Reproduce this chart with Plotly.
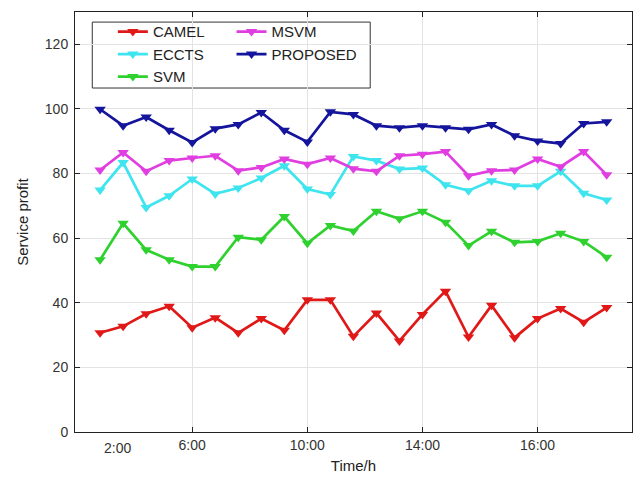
import plotly.graph_objects as go

time_idx = list(range(1, 24))
tick_vals = [5, 10, 15, 20]
tick_text = ["6:00", "10:00", "14:00", "16:00"]
first_label = "2:00"
first_label_pos = 1.74

camel = [30.7, 32.7, 36.6, 38.9, 32.3, 35.4, 30.7, 35.1, 31.5, 40.9, 40.9, 29.6,
         36.8, 28.2, 36.4, 43.6, 29.4, 39.2, 29.2, 35.1, 38.2, 34.0, 38.5]
eccts = [74.9, 83.4, 69.5, 73.1, 78.3, 73.7, 75.5, 78.6, 82.4, 75.2, 73.5, 85.3,
         84.0, 81.4, 81.7, 76.5, 74.7, 77.8, 76.2, 76.2, 80.7, 73.9, 71.8]
svm = [53.3, 64.6, 56.4, 53.3, 51.2, 51.2, 60.3, 59.5, 66.7, 58.4, 63.9, 62.2,
       68.3, 66.0, 68.3, 64.9, 57.7, 62.1, 58.7, 59.0, 61.5, 59.0, 54.1]
msvm = [81.1, 86.5, 80.7, 84.0, 84.8, 85.5, 80.9, 81.9, 84.5, 82.9, 84.8, 81.5,
        80.7, 85.5, 86.0, 86.8, 79.3, 80.9, 81.1, 84.5, 82.1, 86.8, 79.6]
proposed = [99.9, 94.8, 97.5, 93.4, 89.6, 93.9, 95.2, 98.9, 93.4, 89.8, 99.1, 98.3,
            94.8, 94.2, 94.8, 94.2, 93.7, 95.2, 91.7, 90.1, 89.3, 95.5, 96.0]

series = [
    ("CAMEL", camel, "#e01818", "legend"),
    ("ECCTS", eccts, "#3ee4ee", "legend"),
    ("SVM", svm, "#2ed12e", "legend"),
    ("MSVM", msvm, "#e03ee0", "legend2"),
    ("PROPOSED", proposed, "#14149c", "legend2"),
]

fig = go.Figure()
for name, vals, col, lg in series:
    fig.add_trace(go.Scatter(
        x=time_idx, y=vals, name=name, mode="lines+markers",
        line=dict(color=col, width=2.7),
        marker=dict(symbol="triangle-down", size=10, color=col),
        legend=lg,
    ))

font = dict(family="Liberation Sans, Arial, sans-serif", size=14, color="#333333")
legfont = dict(family="Liberation Sans, Arial, sans-serif", size=15, color="#222222")
fig.update_layout(
    width=633, height=473,
    margin=dict(l=67, r=9, t=4, b=49),
    paper_bgcolor="white", plot_bgcolor="white",
    font=font,
    showlegend=True,
    legend=dict(x=0.068, y=0.992, xanchor="left", yanchor="top",
                bgcolor="rgba(0,0,0,0)", borderwidth=0, font=legfont,
                tracegroupgap=0, itemwidth=30),
    legend2=dict(x=0.281, y=0.992, xanchor="left", yanchor="top",
                 bgcolor="rgba(0,0,0,0)", borderwidth=0, font=legfont,
                 tracegroupgap=0, itemwidth=30),
    shapes=[dict(type="rect", xref="paper", yref="paper",
                 x0=0.031, x1=0.53, y0=0.819, y1=0.976,
                 line=dict(color="#333333", width=1), fillcolor="white", layer="below")],
    annotations=[dict(x=first_label_pos, y=0, xref="x", yref="paper",
                      text=first_label, showarrow=False, yanchor="top",
                      yshift=-6, font=font)],
)
fig.update_xaxes(
    range=[-0.09, 24.1], tickvals=tick_vals, ticktext=tick_text,
    showgrid=True, gridcolor="#e3e3e3", zeroline=False, automargin=False,
    showline=True, linecolor="#222222", linewidth=1, mirror="ticks",
    ticks="inside", ticklen=5, tickcolor="#222222",
    title=dict(text="Time/h", standoff=8, font=dict(size=15, color="#222222")),
)
fig.update_yaxes(
    range=[0, 130], tickvals=[0, 20, 40, 60, 80, 100, 120], automargin=False,
    showgrid=True, gridcolor="#e3e3e3", zeroline=False,
    showline=True, linecolor="#222222", linewidth=1, mirror="ticks",
    ticks="inside", ticklen=5, tickcolor="#222222", ticklabelstandoff=3,
    title=dict(text="Service profit", standoff=12, font=dict(size=15, color="#222222")),
)

fig.write_html("out.html")
